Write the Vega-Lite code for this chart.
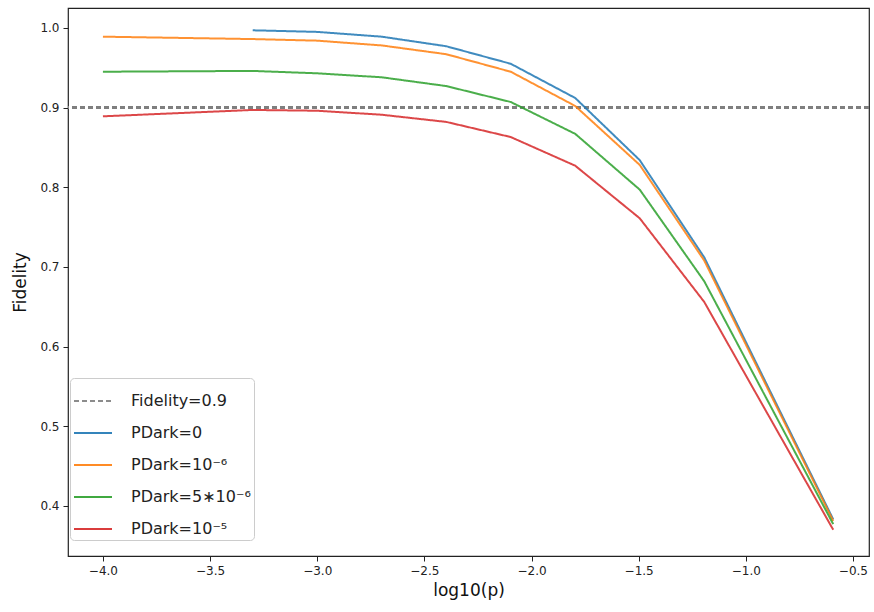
{
  "$schema": "https://vega.github.io/schema/vega-lite/v6.json",
  "autosize": "none",
  "width": 801,
  "height": 548,
  "padding": {"left": 68, "top": 8, "right": 5, "bottom": 56},
  "background": "white",
  "config": {
    "font": "DejaVu Sans",
    "view": {"stroke": "#222", "strokeWidth": 1.2},
    "axis": {"grid": false, "domain": false, "tickColor": "#222", "tickSize": 5, "labelColor": "#222", "labelFontSize": 12, "titleFontSize": 17, "titleFontWeight": "normal", "titleColor": "#111"}
  },
  "data": {"values": [
    {"x": -3.301, "y": 0.997, "s": "PDark=0"},
    {"x": -3.0, "y": 0.995, "s": "PDark=0"},
    {"x": -2.699, "y": 0.989, "s": "PDark=0"},
    {"x": -2.398, "y": 0.977, "s": "PDark=0"},
    {"x": -2.097, "y": 0.955, "s": "PDark=0"},
    {"x": -1.796, "y": 0.912, "s": "PDark=0"},
    {"x": -1.495, "y": 0.834, "s": "PDark=0"},
    {"x": -1.194, "y": 0.712, "s": "PDark=0"},
    {"x": -0.592, "y": 0.383, "s": "PDark=0"},
    {"x": -4.0, "y": 0.989, "s": "PDark=10⁻⁶"},
    {"x": -3.301, "y": 0.986, "s": "PDark=10⁻⁶"},
    {"x": -3.0, "y": 0.984, "s": "PDark=10⁻⁶"},
    {"x": -2.699, "y": 0.978, "s": "PDark=10⁻⁶"},
    {"x": -2.398, "y": 0.967, "s": "PDark=10⁻⁶"},
    {"x": -2.097, "y": 0.945, "s": "PDark=10⁻⁶"},
    {"x": -1.796, "y": 0.902, "s": "PDark=10⁻⁶"},
    {"x": -1.495, "y": 0.828, "s": "PDark=10⁻⁶"},
    {"x": -1.194, "y": 0.708, "s": "PDark=10⁻⁶"},
    {"x": -0.592, "y": 0.381, "s": "PDark=10⁻⁶"},
    {"x": -4.0, "y": 0.945, "s": "PDark=5∗10⁻⁶"},
    {"x": -3.301, "y": 0.946, "s": "PDark=5∗10⁻⁶"},
    {"x": -3.0, "y": 0.943, "s": "PDark=5∗10⁻⁶"},
    {"x": -2.699, "y": 0.938, "s": "PDark=5∗10⁻⁶"},
    {"x": -2.398, "y": 0.927, "s": "PDark=5∗10⁻⁶"},
    {"x": -2.097, "y": 0.907, "s": "PDark=5∗10⁻⁶"},
    {"x": -1.796, "y": 0.867, "s": "PDark=5∗10⁻⁶"},
    {"x": -1.495, "y": 0.797, "s": "PDark=5∗10⁻⁶"},
    {"x": -1.194, "y": 0.682, "s": "PDark=5∗10⁻⁶"},
    {"x": -0.592, "y": 0.377, "s": "PDark=5∗10⁻⁶"},
    {"x": -4.0, "y": 0.889, "s": "PDark=10⁻⁵"},
    {"x": -3.301, "y": 0.897, "s": "PDark=10⁻⁵"},
    {"x": -3.0, "y": 0.896, "s": "PDark=10⁻⁵"},
    {"x": -2.699, "y": 0.891, "s": "PDark=10⁻⁵"},
    {"x": -2.398, "y": 0.882, "s": "PDark=10⁻⁵"},
    {"x": -2.097, "y": 0.863, "s": "PDark=10⁻⁵"},
    {"x": -1.796, "y": 0.827, "s": "PDark=10⁻⁵"},
    {"x": -1.495, "y": 0.761, "s": "PDark=10⁻⁵"},
    {"x": -1.194, "y": 0.656, "s": "PDark=10⁻⁵"},
    {"x": -0.592, "y": 0.370, "s": "PDark=10⁻⁵"}
  ]},
  "layer": [
    {
      "mark": {"type": "rule", "strokeWidth": 2, "opacity": 0.9},
      "encoding": {
        "y": {"datum": 0.9, "type": "quantitative"},
        "color": {"datum": "Fidelity=0.9"},
        "strokeDash": {"datum": "Fidelity=0.9"}
      }
    },
    {
      "mark": {"type": "line", "strokeWidth": 2, "opacity": 0.85},
      "encoding": {
        "x": {"field": "x", "type": "quantitative",
          "scale": {"domain": [-4.163, -0.425], "nice": false, "zero": false},
          "axis": {"title": "log10(p)", "values": [-4, -3.5, -3, -2.5, -2, -1.5, -1, -0.5], "format": ".1f", "labelPadding": 4, "titlePadding": 6}},
        "y": {"field": "y", "type": "quantitative",
          "scale": {"domain": [0.337, 1.025], "nice": false, "zero": false},
          "axis": {"title": "Fidelity", "values": [0.4, 0.5, 0.6, 0.7, 0.8, 0.9, 1.0], "format": ".1f", "labelPadding": 4, "titlePadding": 10}},
        "color": {"field": "s", "type": "nominal",
          "scale": {"domain": ["Fidelity=0.9", "PDark=0", "PDark=10⁻⁶", "PDark=5∗10⁻⁶", "PDark=10⁻⁵"],
                    "range": ["#808080", "#1f77b4", "#ff7f0e", "#2ca02c", "#d62728"]},
          "legend": {"title": null, "orient": "none", "legendX": 2, "legendY": 370, "symbolType": "stroke", "symbolSize": 1444, "symbolStrokeWidth": 2, "labelFontSize": 16, "labelColor": "#222", "rowPadding": 4, "labelOffset": 18, "padding": 3, "strokeColor": "#ccc", "fillColor": "white", "cornerRadius": 4}},
        "strokeDash": {"field": "s", "type": "nominal",
          "scale": {"domain": ["Fidelity=0.9", "PDark=0", "PDark=10⁻⁶", "PDark=5∗10⁻⁶", "PDark=10⁻⁵"],
                    "range": [[5, 3], [1, 0], [1, 0], [1, 0], [1, 0]]},
          "legend": null}
      }
    }
  ]
}
